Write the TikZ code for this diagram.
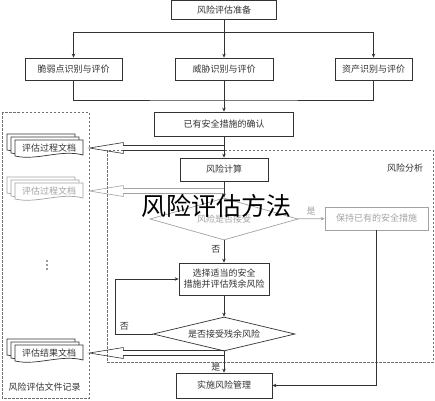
\documentclass[tikz,border=0pt]{standalone}
\usepackage{fontspec}
\setmainfont{Noto Sans CJK SC}
\usetikzlibrary{arrows.meta,calc,positioning,shapes.geometric}
\definecolor{ink}{HTML}{333333}
\definecolor{faded}{HTML}{A3A3A3}

% stacked documents: name, x, y, colour, text
\newcommand\docstack[5]{
  \foreach \d/\e in {8/6,4/3,0/0}{
    \draw[#4, fill=white] ({#2-34-\d},{#3-8-\e}) -- ({#2+34-\d},{#3-8-\e}) -- ({#2+34-\d},{#3+7-\e})
      .. controls ({#2+12-\d},{#3+1-\e}) and ({#2-12-\d},{#3+13-\e}) .. ({#2-34-\d},{#3+8-\e}) -- cycle;
  }
  \node[docnode, text=#4] (#1) at (#2,#3) {#5};
}
% open arrow: colour, start, tip
\newcommand\hollowarrow[3]{
  \draw[#1, line width=0.6pt] ($(#2)+(0,-2.5)$) -- ($(#3)+(34,-2.5)$) -- ($(#3)+(34,-5.5)$) -- (#3)
    -- ($(#3)+(34,5.5)$) -- ($(#3)+(34,2.5)$) -- ($(#2)+(0,2.5)$);
}

\begin{document}
\begin{tikzpicture}[x=1pt, y=-1pt, ink, text=ink, line width=0.7pt, >={Stealth[length=4pt,width=3.5pt]},
  box/.style={draw=ink, fill=white, inner sep=1pt, font=\fontsize{9}{11}\selectfont, align=center},
  check/.style={draw, diamond, aspect=4, inner sep=0pt, fill=white, font=\fontsize{9}{11}\selectfont},
  region/.style={draw=ink!70, dash pattern=on 2.5pt off 1.5pt, line width=0.8pt},
  docnode/.style={inner sep=0pt, minimum width=68pt, minimum height=16pt, font=\fontsize{9}{11}\selectfont},
  tag/.style={font=\fontsize{9}{11}\selectfont}]
  \useasboundingbox[fill=white] (0,0) rectangle (435,400);

  \draw[region] (2,112) rectangle (89,398);
  \draw[region] (107,150) rectangle (433,362);

  \node[box, minimum width=105pt, minimum height=19pt] (prep) at (224,10) {风险评估准备};
  \node[box, minimum width=97pt, minimum height=22pt] (vuln) at (73.5,69) {脆弱点识别与评价};
  \node[box, minimum width=98pt, minimum height=22pt] (threat) at (224,69) {威胁识别与评价};
  \node[box, minimum width=77pt, minimum height=22pt] (asset) at (373.5,69) {资产识别与评价};
  \node[box, minimum width=139pt, minimum height=24pt] (confirm) at (224,124) {已有安全措施的确认};
  \node[box, minimum width=88pt, minimum height=23pt] (calc) at (224,169.5) {风险计算};
  \node[check, draw=faded, text=faded, minimum width=148pt, minimum height=42pt] (accept) at (224,219) {\raisebox{-2pt}{风险是否接受}};
  \node[box, draw=faded, text=faded, minimum width=103pt, minimum height=23pt] (keep) at (376.5,218.5) {保持已有的安全措施};
  \node[box, minimum width=90pt, minimum height=32pt] (select) at (224,279) {选择适当的安全\\措施并评估残余风险};
  \node[check, minimum width=142pt, minimum height=34pt] (resid) at (224,334) {是否接受残余风险};
  \node[box, minimum width=96pt, minimum height=25pt] (impl) at (224,385.5) {实施风险管理};

  \node[tag] (analysis) at (405,168) {风险分析};
  \node[tag, anchor=west] (record) at (5,387) {风险评估文件记录};

  \docstack{doc1}{49}{148}{ink}{评估过程文档}
  \docstack{doc2}{49}{191}{faded}{评估过程文档}
  \docstack{doc3}{49}{353}{ink}{评估结果文档}
  \foreach \y in {261,265,269} \fill[ink] (47,\y) circle (0.8);

  % top part
  \coordinate (split) at (224,32);
  \coordinate (merge) at (224,100);
  \draw (prep) -- (split);
  \draw[->] (split) -| (vuln);
  \draw[->] (split) -| (asset);
  \draw[->] (split) -- (threat);
  \draw (vuln) |- (merge) -| (asset);
  \draw[->] (threat) -- (confirm);

  % analysis
  \draw[->] (confirm) -- (calc);
  \draw[->] (calc) -- (accept);
  \draw[->, faded] (accept) -- node[above, tag, text=faded] {是} (keep);
  \draw[->] (accept) -- node[left, tag, pos=0.4] {否} (select);
  \draw[->] (select) -- (resid);
  \coordinate (loop) at (115,334);
  \draw[->] (resid.west) -- node[above, tag, pos=0.75] {否} (loop) |- (select.west);
  \draw[->] (resid) -- node[left, tag, pos=0.75] {是} (impl);
  \draw[->] (keep) |- (impl);

  % records
  \coordinate (from1) at (doc1 -| confirm);
  \coordinate (from2) at (doc2 -| calc);
  \coordinate (from3) at (doc3 -| resid);
  \coordinate (tip1) at ($(doc1.east)+(6,0)$);
  \coordinate (tip2) at ($(doc2.east)+(6,0)$);
  \coordinate (tip3) at ($(doc3.east)+(6,0)$);
  \hollowarrow{ink}{from1}{tip1}
  \hollowarrow{faded}{from2}{tip2}
  \hollowarrow{ink}{from3}{tip3}

  \node[font=\fontsize{25}{25}\selectfont, text=black] (title) at (216,206) {风险评估方法};
\end{tikzpicture}
\end{document}
